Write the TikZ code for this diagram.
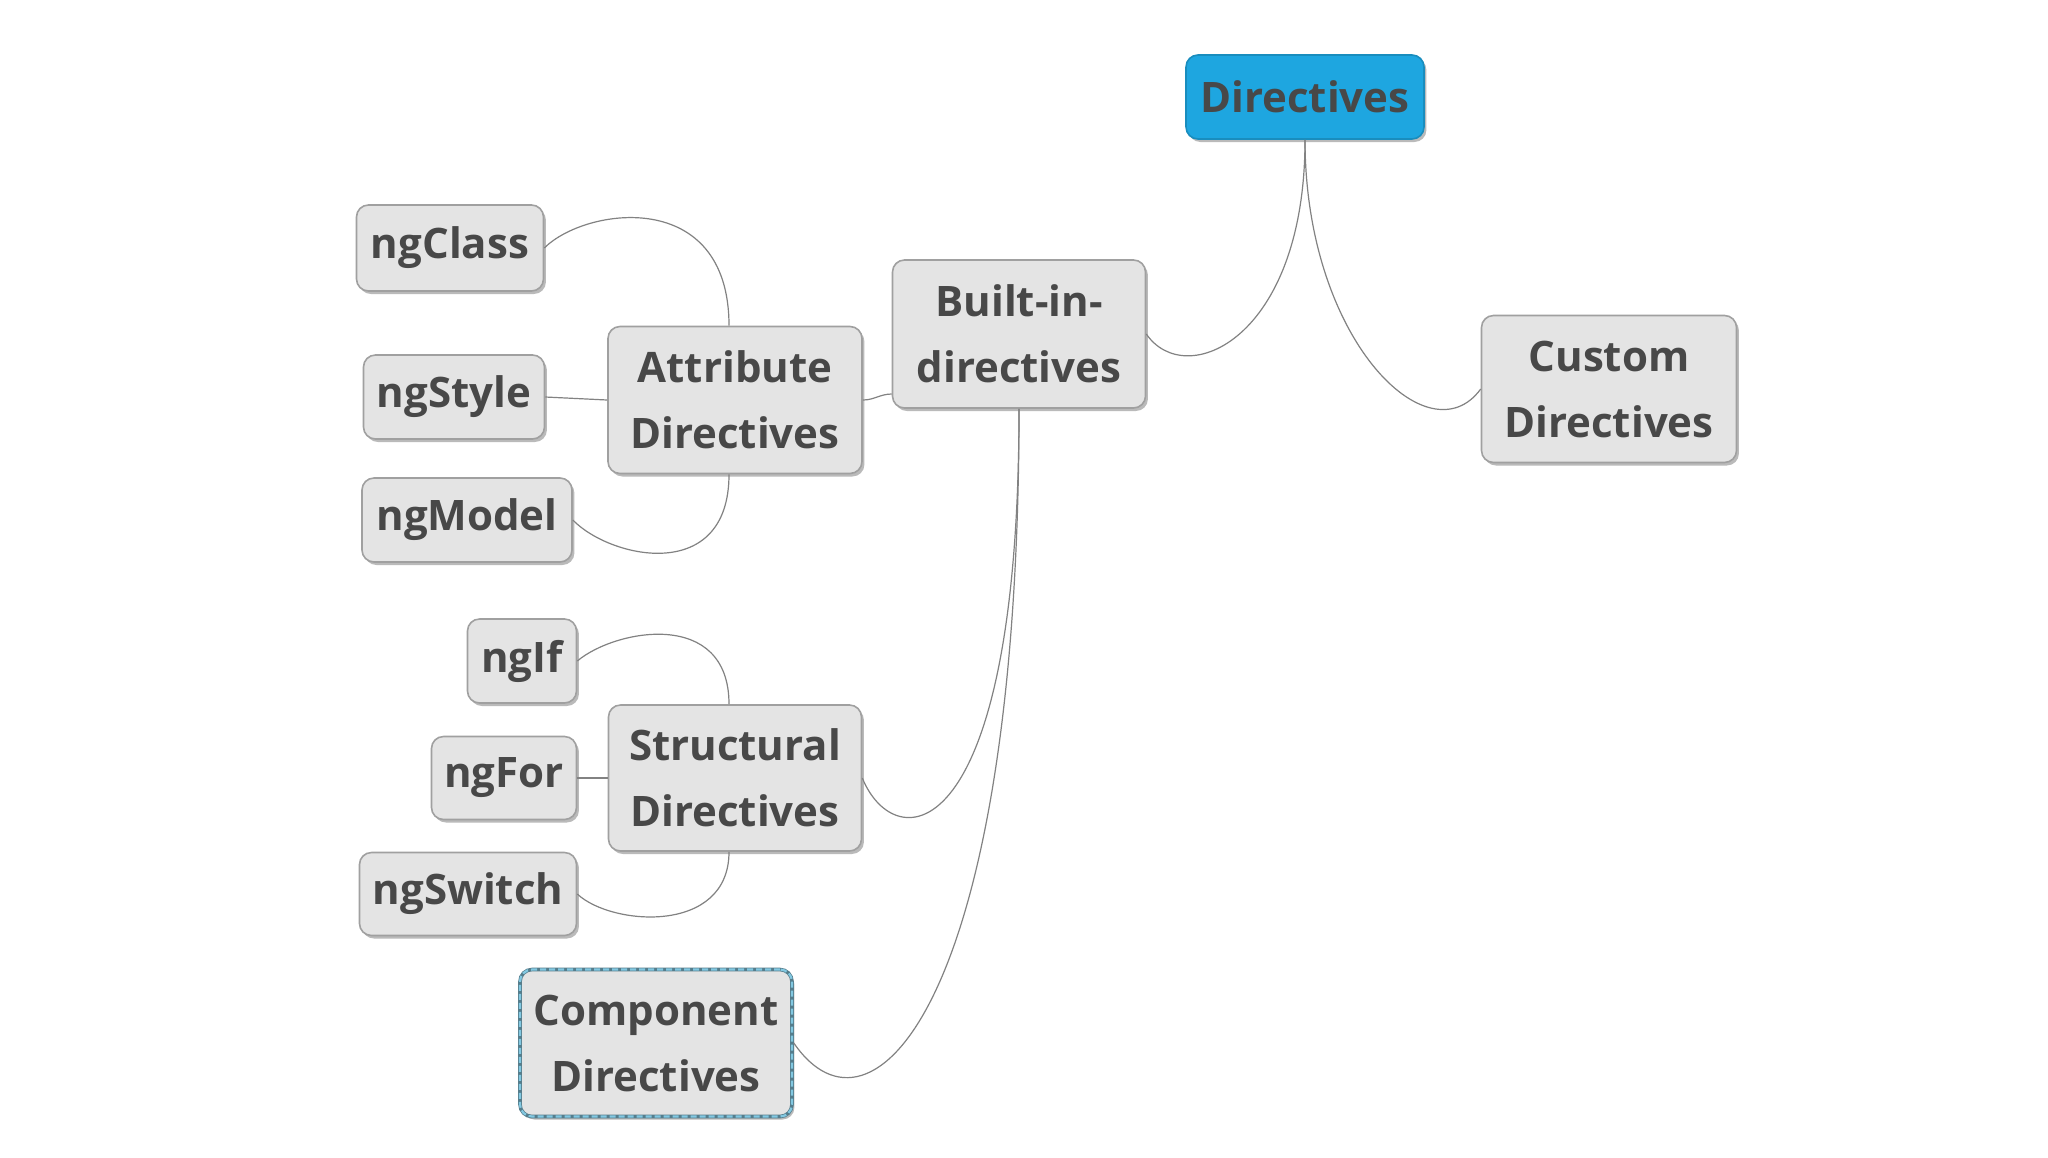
\documentclass[tikz,border=0pt]{standalone}
\usepackage{fontspec}
\setmainfont{Open Sans}
\usetikzlibrary{shadows}
\definecolor{boxfill}{RGB}{228,228,228}
\definecolor{boxline}{RGB}{160,160,160}
\definecolor{textgray}{RGB}{72,72,72}
\definecolor{topblue}{RGB}{30,166,224}
\definecolor{linkgray}{RGB}{130,130,130}
\definecolor{dashblue}{RGB}{130,200,225}
\definecolor{dashedge}{RGB}{85,125,140}

\begin{document}
\begin{tikzpicture}[
        x=0.5pt, y=-0.5pt,
        every node/.style={font=\fontsize{21}{33}\selectfont\bfseries, text=textgray, align=center},
        box/.style={draw=boxline, fill=boxfill, rounded corners=6pt, line width=0.8pt, inner sep=2pt,
            drop shadow={shadow xshift=1.2pt, shadow yshift=-1.5pt, fill=black!45, opacity=0.6}},
        root/.style={box, fill=topblue, draw=topblue!85!black},
        comp/.style={box, draw=dashedge, line width=1.8pt,
            postaction={draw=dashblue, line width=1.1pt, dash pattern=on 3pt off 1.5pt}},
        link/.style={draw=linkgray, line width=0.6pt}
    ]
    \fill[white] (0,0) rectangle (2048,1152);
    \node[root, minimum width=119pt, minimum height=42pt] (Dir) at (1305,97) {Directives};
    \node[box, minimum width=126.5pt, minimum height=74pt] (Built) at (1019,334) {Built-in-\\directives};
    \node[box, minimum width=127.5pt, minimum height=73.5pt] (Custom) at (1609,389) {Custom\\Directives};
    \node[box, minimum width=127pt, minimum height=73.5pt] (Attr) at (735,400) {Attribute\\Directives};
    \node[box, minimum width=93.5pt, minimum height=43pt] (NgClass) at (450,248) {ngClass};
    \node[box, minimum width=90.5pt, minimum height=42pt] (NgStyle) at (454,397) {ngStyle};
    \node[box, minimum width=105pt, minimum height=42pt] (NgModel) at (467,520) {ngModel};
    \node[box, minimum width=126.5pt, minimum height=73pt] (Struct) at (735,778) {Structural\\Directives};
    \node[box, minimum width=54.5pt, minimum height=42pt] (NgIf) at (522,661) {ngIf};
    \node[box, minimum width=72.5pt, minimum height=41.5pt] (NgFor) at (504,778) {ngFor};
    \node[box, minimum width=108.5pt, minimum height=41.5pt] (NgSwitch) at (468,894) {ngSwitch};
    \node[comp, minimum width=136pt, minimum height=73.5pt] (Comp) at (656,1043) {Component\\Directives};
    \draw[link] (Built.east) .. controls +(39,57) and +(0,200) .. (Dir.south);
    \draw[link] (Dir.south) .. controls +(0,200) and +(-52,71) .. (Custom.west);
    \draw[link] (Attr.east) to[out=0,in=180] ([yshift=-30pt]Built.west);
    \draw[link] (Struct.east) .. controls +(33,81) and +(0,442) .. (Built.south);
    \draw[link] (Comp.east) .. controls +(78,114) and +(0,592) .. (Built.south);
    \draw[link] (NgClass.east) .. controls +(41,-41) and +(0,-139) .. ([xshift=-3pt]Attr.north);
    \draw[link] (NgStyle.east) -- (Attr.west);
    \draw[link] (NgModel.east) .. controls +(38,39) and +(0,110) .. ([xshift=-3pt]Attr.south);
    \draw[link] (NgIf.east) .. controls +(38,-32) and +(0,-96) .. ([xshift=-3pt]Struct.north);
    \draw[link] (NgFor.east) -- (Struct.west);
    \draw[link] (NgSwitch.east) .. controls +(34,32) and +(0,83) .. ([xshift=-3pt]Struct.south);
\end{tikzpicture}
\end{document}
